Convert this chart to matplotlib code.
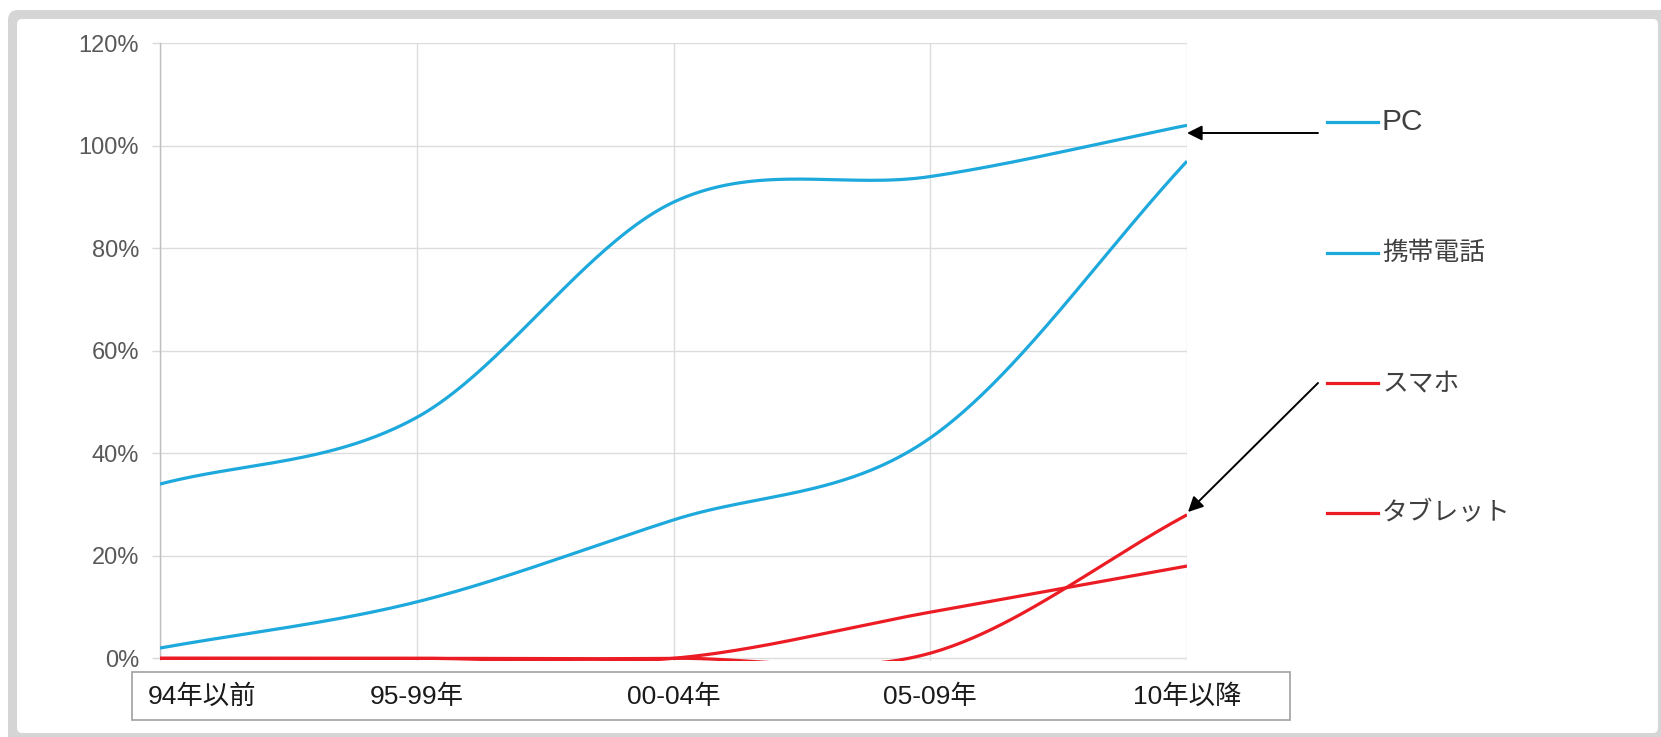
import numpy as np
import matplotlib
matplotlib.use("Agg")
import matplotlib.pyplot as plt
from matplotlib.patches import FancyBboxPatch, Rectangle
from matplotlib import transforms

# ---- data ----
categories = ["94年以前", "95-99年", "00-04年", "05-09年", "10年以降"]
series_names = ["PC", "携帯電話", "スマホ", "タブレット"]
pc = [34, 47, 89, 94, 104]
keitai = [2, 11, 27, 43, 97]
sumaho = [0, 0, 0, 1, 28]
tablet = [0, 0, 0, 9, 18]
y_ticks = [0, 20, 40, 60, 80, 100, 120]
y_tick_labels = ["0%", "20%", "40%", "60%", "80%", "100%", "120%"]

BLUE = "#1EA9DD"
RED = "#EC1C24"
colors = [BLUE, BLUE, RED, RED]
values = [pc, keitai, sumaho, tablet]

JP = ["Liberation Sans", "Noto Sans CJK JP", "DejaVu Sans"]
plt.rcParams["font.family"] = JP

W, H = 1661, 737
fig = plt.figure(figsize=(W / 100, H / 100), dpi=100)
fig.patch.set_facecolor("white")

def px(x, ytop):
    """figure-pixel (top origin) -> inches"""
    return x / 100, (H - ytop) / 100

# outer grey frame
tr = fig.dpi_scale_trans
x0, y0 = px(8, 760)
fig.patches.append(FancyBboxPatch((x0, y0), (1720 - 8) / 100, (760 - 10) / 100,
                                  boxstyle="round,pad=0,rounding_size=0.1",
                                  transform=tr, facecolor="#D5D5D5", edgecolor="none", zorder=-10))
x0, y0 = px(17, 733)
fig.patches.append(FancyBboxPatch((x0, y0), (1658 - 17) / 100, (733 - 19) / 100,
                                  boxstyle="round,pad=0,rounding_size=0.05",
                                  transform=tr, facecolor="white", edgecolor="none", zorder=-9))

# smoothing (Catmull-Rom style, like Excel smoothed lines)
def smooth(y, n=80):
    y = np.asarray(y, float)
    k = len(y)
    m = np.zeros(k)
    m[1:-1] = (y[2:] - y[:-2]) / 2
    m[0] = y[1] - y[0]
    m[-1] = y[-1] - y[-2]
    xs, ys = [], []
    for i in range(k - 1):
        t = np.linspace(0, 1, n)
        h00 = 2 * t**3 - 3 * t**2 + 1
        h10 = t**3 - 2 * t**2 + t
        h01 = -2 * t**3 + 3 * t**2
        h11 = t**3 - t**2
        ys.append(h00 * y[i] + h10 * m[i] + h01 * y[i + 1] + h11 * m[i + 1])
        xs.append(i + t)
    return np.concatenate(xs), np.concatenate(ys)

# axes: x 160..1187 px, 120% at 43.3, 0% at 658.3
ybot = -0.6
pp = (658.3 - 43.3) / 120.0
ax_bottom_px = 658.3 - ybot * pp
ax = fig.add_axes([160 / W, (H - ax_bottom_px) / H, (1187 - 160) / W,
                   (ax_bottom_px - 43.3) / H])
ax.set_zorder(2)
ax.set_facecolor("none")
ax.set_xlim(0, len(categories) - 1)
ax.set_ylim(ybot, 120)

ax.set_yticks(y_ticks)
ax.set_yticklabels(y_tick_labels)
ax.tick_params(axis="y", length=6, width=1, color="#D9D9D9", pad=9,
               labelsize=17, labelcolor="#595959")
for lab in ax.get_yticklabels():
    lab.set_family("Liberation Sans")
ax.set_xticks(range(len(categories)))
ax.tick_params(axis="x", length=0, labelbottom=False)
ax.grid(True, color="#DCDCDC", linewidth=1.0)
ax.set_axisbelow(True)
for s in ["top", "right", "bottom"]:
    ax.spines[s].set_visible(False)
ax.spines["left"].set_color("#BFBFBF")
ax.spines["left"].set_linewidth(1.0)
ax.spines["left"].set_bounds(0, 120)

for vals, c in zip(values, colors):
    xs, ys = smooth(vals)
    ax.plot(xs, ys, color=c, linewidth=2.3, solid_capstyle="butt", zorder=3)

# x label box
bx, by = px(132, 720)
fig.patches.append(Rectangle((bx, by), (1290 - 132) / 100, (720 - 672) / 100,
                             transform=tr, facecolor="white", edgecolor="#A8A8A8",
                             linewidth=1.3, zorder=1))
lab_y = (H - 697) / H
btr = transforms.blended_transform_factory(ax.transData, fig.transFigure)
for i, cat in enumerate(categories):
    if i == 0:
        t = btr + transforms.ScaledTranslation(-12 / 100, 0, fig.dpi_scale_trans)
        fig.text(i, lab_y, cat, transform=t, ha="left", va="center",
                 fontsize=19, color="#1A1A1A", family=JP, zorder=3)
    else:
        fig.text(i, lab_y, cat, transform=btr, ha="center", va="center",
                 fontsize=19, color="#1A1A1A", family=JP, zorder=3)

# legend (manual)
leg_y = [122, 253, 383, 513]
leg_sizes = [21.5, 18.5, 18.5, 18.5]
for name, c, ly, fs in zip(series_names, colors, leg_y, leg_sizes):
    fig.add_artist(plt.Line2D([1327 / W, 1378 / W], [(H - ly) / H] * 2,
                              color=c, linewidth=2.3, transform=fig.transFigure, zorder=3))
    fig.text(1382 / W, (H - ly) / H, name, ha="left", va="center",
             fontsize=fs, color="#404040", family=JP, zorder=3)

# arrows
arrowprops = dict(arrowstyle="-|>,head_length=0.9,head_width=0.45",
                  color="black", linewidth=1.4, shrinkA=0, shrinkB=0)
ax.annotate("", xy=(1187 / W, (H - 133) / H), xycoords="figure fraction",
            xytext=(1318 / W, (H - 133) / H), textcoords="figure fraction",
            arrowprops=arrowprops, annotation_clip=False)
ax.annotate("", xy=(1188 / W, (H - 512) / H), xycoords="figure fraction",
            xytext=(1318 / W, (H - 383) / H), textcoords="figure fraction",
            arrowprops=arrowprops, annotation_clip=False)

fig.savefig("out.png", dpi=100)
